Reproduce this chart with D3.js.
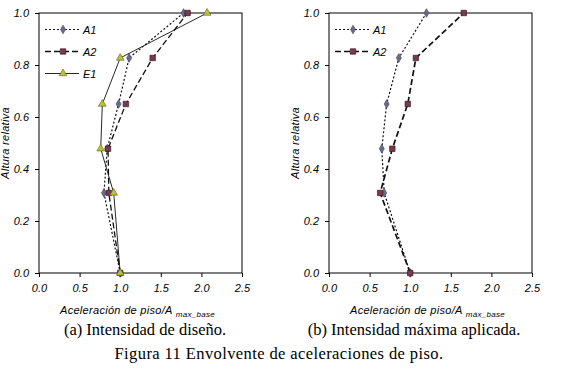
<!DOCTYPE html>
<html>
<head>
<meta charset="utf-8">
<script src="https://cdn.jsdelivr.net/npm/d3@7"></script>
<style>
	body { margin: 0; background: #fff; }
	svg { display: block; }
	.tick text { font-family: "Liberation Sans", Arial, sans-serif; font-style: italic; font-size: 11px; fill: #000; }
	.lbl { font-family: "Liberation Sans", Arial, sans-serif; font-style: italic; fill: #000; }
	.cap { font-family: "Liberation Serif", "Times New Roman", serif; font-size: 16.5px; fill: #000; }
</style>
</head>
<body>
<svg id="chart" width="564" height="378"></svg>
<script>
// relative height of each floor level
const heights = [0, 0.308, 0.478, 0.65, 0.827, 1.0];

// (a) Intensidad de diseño
const designA1 = [1.0, 0.80, 0.84, 0.98, 1.11, 1.78];
const designA2 = [1.0, 0.86, 0.85, 1.07, 1.40, 1.83];
const designE1 = [1.0, 0.92, 0.76, 0.78, 1.00, 2.07];

// (b) Intensidad máxima aplicada
const maxA1 = [1.0, 0.68, 0.65, 0.71, 0.86, 1.20];
const maxA2 = [1.0, 0.63, 0.78, 0.97, 1.07, 1.66];

const xTicks = [0, 0.5, 1.0, 1.5, 2.0, 2.5];
const yTicks = [0, 0.2, 0.4, 0.6, 0.8, 1.0];

const seriesStyle = {
	A1: { dash: "2,2", width: 1.2, symbol: d3.symbolDiamond, size: 22, fill: "#6a6a8c", stroke: "#44445c" },
	A2: { dash: "6,3", width: 1.3, symbol: d3.symbolSquare, size: 30, fill: "#7a3a4e", stroke: "#2a1018" },
	E1: { dash: null, width: 0.9, symbol: d3.symbolTriangle, size: 26, fill: "#b8c23c", stroke: "#5c6418" }
};

const svg = d3.select("#chart");

function drawPanel(left, sub, series, lineWidths) {
	const top = 13, w = 203, h = 260;
	const x = d3.scaleLinear().domain([0, 2.5]).range([0, w]);
	const y = d3.scaleLinear().domain([0, 1]).range([h, 0]);

	const g = svg.append("g").attr("transform", `translate(${left},${top})`);

	g.append("rect")
		.attr("width", w).attr("height", h)
		.attr("fill", "none").attr("stroke", "#000").attr("stroke-width", 1);

	const xAxis = g.append("g")
		.attr("transform", `translate(0,${h})`)
		.call(d3.axisBottom(x).tickValues(xTicks).tickFormat(d3.format(".1f")).tickSize(4).tickPadding(5));
	const yAxis = g.append("g")
		.call(d3.axisLeft(y).tickValues(yTicks).tickFormat(d3.format(".1f")).tickSize(4).tickPadding(6));
	[xAxis, yAxis].forEach(a => {
		a.select(".domain").remove();
		a.selectAll("line").attr("stroke", "#000");
	});
	xAxis.selectAll("text").attr("dy", "0.95em");

	g.append("text")
		.attr("class", "lbl")
		.attr("transform", `translate(-30,${h / 2}) rotate(-90)`)
		.attr("text-anchor", "middle")
		.attr("font-size", 11)
		.attr("letter-spacing", 0.3)
		.text("Altura relativa");

	const xt = g.append("text")
		.attr("class", "lbl")
		.attr("x", w / 2 - 3).attr("y", h + 41)
		.attr("text-anchor", "middle")
		.attr("font-size", 11)
		.attr("letter-spacing", 0.3);
	xt.append("tspan").text("Aceleración de piso/A ");
	xt.append("tspan").attr("font-size", 8).attr("dy", 3).text(sub);

	const line = d3.line().x(d => x(d[0])).y(d => y(d[1]));

	series.forEach(s => {
		const st = seriesStyle[s.name];
		const pts = s.values.map((v, i) => [v, heights[i]]);
		g.append("path")
			.attr("d", line(pts))
			.attr("fill", "none")
			.attr("stroke", "#111")
			.attr("stroke-width", lineWidths[s.name] || st.width)
			.attr("stroke-dasharray", st.dash);
		g.selectAll(null).data(pts).join("path")
			.attr("transform", d => `translate(${x(d[0])},${y(d[1])})`)
			.attr("d", d3.symbol(st.symbol, st.size))
			.attr("fill", st.fill)
			.attr("stroke", st.stroke)
			.attr("stroke-width", 0.6);
	});

	// legend
	series.forEach((s, i) => {
		const st = seriesStyle[s.name];
		const ly = 16.5 + i * 22;
		const lg = g.append("g").attr("transform", `translate(6,${ly})`);
		lg.append("line")
			.attr("x1", 0).attr("x2", 34)
			.attr("stroke", "#111")
			.attr("stroke-width", lineWidths[s.name] || st.width)
			.attr("stroke-dasharray", st.dash);
		lg.append("path")
			.attr("transform", "translate(18,0)")
			.attr("d", d3.symbol(st.symbol, st.size))
			.attr("fill", st.fill).attr("stroke", st.stroke).attr("stroke-width", 0.6);
		lg.append("text")
			.attr("class", "lbl")
			.attr("x", 38).attr("y", 4)
			.attr("font-size", 11)
			.text(s.name);
	});
}

drawPanel(39, "max_base", [
	{ name: "A1", values: designA1 },
	{ name: "A2", values: designA2 },
	{ name: "E1", values: designE1 }
], {});

drawPanel(329, "máx_base", [
	{ name: "A1", values: maxA1 },
	{ name: "A2", values: maxA2 }
], { A2: 1.7 });

svg.append("text").attr("class", "cap").attr("x", 145).attr("y", 335)
	.attr("text-anchor", "middle").text("(a) Intensidad de diseño.");
svg.append("text").attr("class", "cap").attr("x", 414).attr("y", 335)
	.attr("text-anchor", "middle").text("(b) Intensidad máxima aplicada.");
svg.append("text").attr("class", "cap").attr("x", 279).attr("y", 359)
	.attr("text-anchor", "middle").attr("letter-spacing", 0.4)
	.text("Figura 11 Envolvente de aceleraciones de piso.");
</script>
</body>
</html>
